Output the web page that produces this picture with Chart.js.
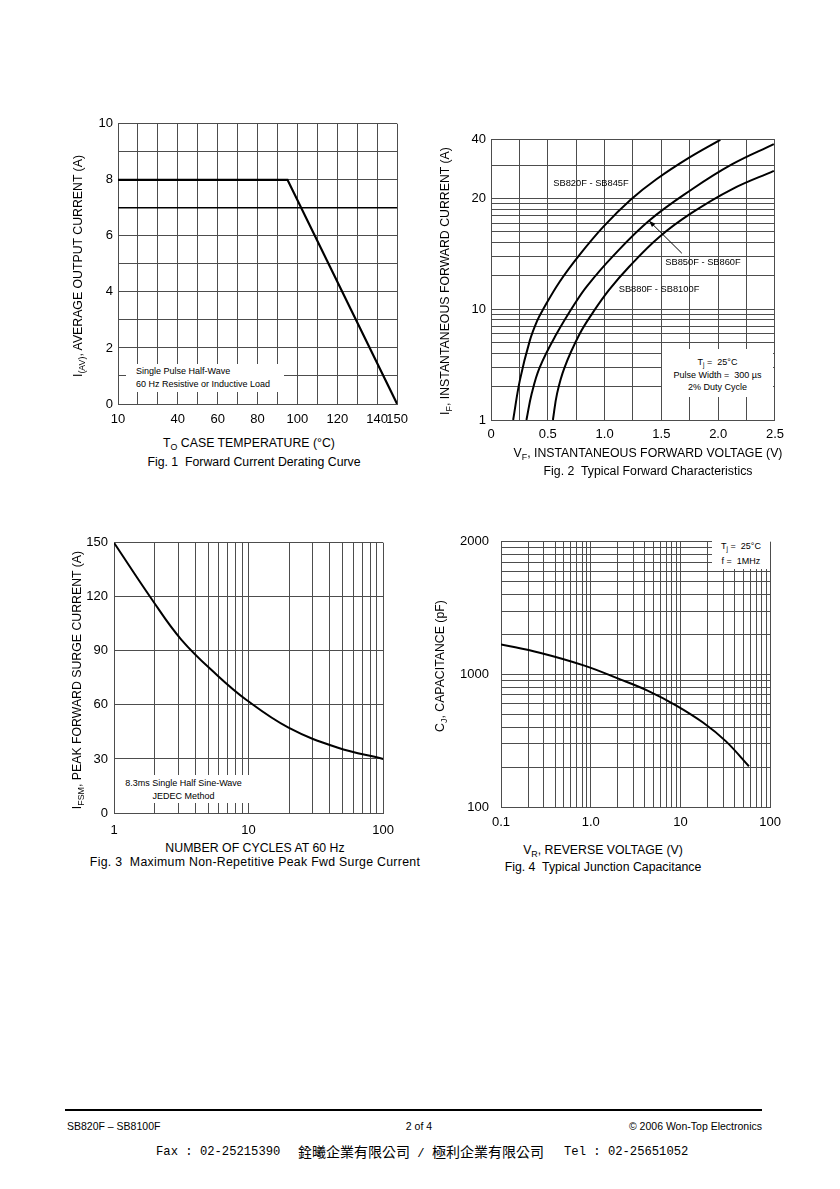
<!DOCTYPE html>
<html lang="en">
<head>
<meta charset="UTF-8" />
<title>SB820F - SB8100F typical curves</title>
<script src="https://cdn.jsdelivr.net/npm/chart.js"></script>
<style>
  body { margin: 0; background: #fff; color: #000; font-family: "Liberation Sans", Arial, sans-serif; }
  .page { position: relative; width: 840px; height: 1189px; overflow: hidden; }
  .plot { position: absolute; }
  .t { position: absolute; white-space: pre; transform: translate(-50%, -50%); font-size: 12.3px; line-height: 1; }
  .rot { transform: translate(-50%, -50%) rotate(-90deg); }
  .small { font-size: 9.3px; }
  .box { position: absolute; background: #fff; font-size: 9px; line-height: 12.5px; white-space: pre; }
  sub { font-size: 72%; line-height: 0; vertical-align: -0.35em; }
  .foot { position: absolute; font-size: 10.5px; line-height: 1; transform: translateY(-50%); white-space: pre; }
  .mono { font-family: "Liberation Mono", monospace; font-size: 12.2px; }
  .cjk { font-family: "Noto Sans CJK TC", sans-serif; font-size: 14px; }
</style>
</head>
<body>
<div class="page">
  <div class="plot" style="left:78px;top:111px;width:338px;height:319px"><canvas id="fig1"></canvas></div>
  <div class="plot" style="left:451px;top:127px;width:340px;height:319px"><canvas id="fig2"></canvas></div>
  <div class="plot" style="left:74px;top:529px;width:330px;height:310px"><canvas id="fig3"></canvas></div>
  <div class="plot" style="left:456px;top:522px;width:333px;height:311px"><canvas id="fig4"></canvas></div>

  <!-- Fig. 1 texts -->
  <div class="t rot" style="left:78px;top:266px">I<sub>(AV)</sub>, AVERAGE OUTPUT CURRENT (A)</div>
  <div class="t" style="left:249px;top:443px">T<sub>O</sub> CASE TEMPERATURE (°C)</div>
  <div class="t" style="left:254px;top:462px">Fig. 1  Forward Current Derating Curve</div>
  <div class="box" style="left:126px;top:364px;width:158px;height:28px;padding-left:10px;padding-top:1px;box-sizing:border-box">Single Pulse Half-Wave
60 Hz Resistive or Inductive Load</div>

  <!-- Fig. 2 texts -->
  <div class="t rot" style="left:445px;top:281px">I<sub>F</sub>, INSTANTANEOUS FORWARD CURRENT (A)</div>
  <div class="t" style="left:648px;top:453px">V<sub>F</sub>, INSTANTANEOUS FORWARD VOLTAGE (V)</div>
  <div class="t" style="left:648px;top:471px">Fig. 2  Typical Forward Characteristics</div>
  <div class="t small" style="left:591px;top:184px">SB820F - SB845F</div>
  <div class="t small" style="left:703px;top:263px">SB850F - SB860F</div>
  <div class="t small" style="left:659px;top:290px">SB880F - SB8100F</div>
  <div class="box" style="left:662px;top:349px;width:111px;height:48px;text-align:center;padding-top:7px;box-sizing:border-box">T<sub>j</sub> =  25°C
Pulse Width =  300 µs
2% Duty Cycle</div>

  <!-- Fig. 3 texts -->
  <div class="t rot" style="left:77px;top:680px">I<sub>FSM</sub>, PEAK FORWARD SURGE CURRENT (A)</div>
  <div class="t" style="left:255px;top:848px">NUMBER OF CYCLES AT 60 Hz</div>
  <div class="t" style="left:255px;top:862px;letter-spacing:0.3px">Fig. 3  Maximum Non-Repetitive Peak Fwd Surge Current</div>
  <div class="box" style="left:117px;top:775px;width:133px;height:28px;text-align:center;padding-top:2px;box-sizing:border-box">8.3ms Single Half Sine-Wave
JEDEC Method</div>

  <!-- Fig. 4 texts -->
  <div class="t rot" style="left:440px;top:666px">C<sub>J</sub>, CAPACITANCE (pF)</div>
  <div class="t" style="left:603px;top:850px">V<sub>R</sub>, REVERSE VOLTAGE (V)</div>
  <div class="t" style="left:603px;top:867px">Fig. 4  Typical Junction Capacitance</div>
  <div class="box" style="left:712px;top:536px;width:58px;height:33px;text-align:center;line-height:15px;padding-top:3px;box-sizing:border-box">T<sub>j</sub> =  25°C
f =  1MHz</div>

  <!-- footer -->
  <div style="position:absolute;left:65px;top:1109px;width:697px;height:2px;background:#000"></div>
  <div class="foot" style="left:67px;top:1126px">SB820F – SB8100F</div>
  <div class="foot" style="left:419px;top:1126px;transform:translate(-50%,-50%)">2 of 4</div>
  <div class="foot" style="right:78px;top:1126px">© 2006 Won-Top Electronics</div>
  <div class="foot mono" style="left:156px;top:1152px">Fax : 02-25215390</div>
  <div class="foot" style="left:298px;top:1152px"><span class="cjk">銓曦企業有限公司</span><span class="mono"> / </span><span class="cjk">極利企業有限公司</span></div>
  <div class="foot mono" style="left:564px;top:1152px">Tel : 02-25651052</div>
</div>

<script>
  // Fig. 1 - derating (case temperature in °C, current in A)
  const fig1Temp = [10, 95, 150];
  const fig1Current = [8, 8, 0];
  const fig1RefTemp = [10, 150];
  const fig1RefCurrent = [7, 7];
  const fig1XLabels = [10, 40, 60, 80, 100, 120, 140, 150];

  // Fig. 2 - forward characteristics (V, A)
  const fig2V1 = [0.195, 0.254, 0.341, 0.405, 0.458, 0.606, 0.783, 0.992, 1.234, 1.456, 1.741, 2.019];
  const fig2I1 = [1, 2.28, 5.18, 7.8, 9.95, 11.9, 14.1, 16.8, 19.9, 25.1, 32.3, 40];
  const fig2V2 = [0.312, 0.359, 0.429, 0.575, 0.75, 0.849, 1.07, 1.391, 1.77, 2.12, 2.49];
  const fig2I2 = [1, 1.74, 2.99, 5.94, 10.5, 11.6, 13.9, 17.4, 22.3, 29.9, 38];
  const fig2V3 = [0.545, 0.582, 0.648, 0.779, 0.895, 1.041, 1.216, 1.479, 1.77, 2.12, 2.49];
  const fig2I3 = [1, 1.74, 2.99, 5.94, 9.27, 11.3, 13.05, 15.7, 18.3, 22.3, 27.7];
  const fig2XLabelValues = [0, 0.5, 1, 1.5, 2, 2.5];
  const fig2XLabels = ['0', '0.5', '1.0', '1.5', '2.0', '2.5'];
  // the printed grid is a plain log grid, but its labels are not: 20 sits on the 100 line
  const fig2YLabels = ['1', '10', '20', '40'];
  const fig2YLabelAmps = [1, 10, 20, 40];
  const fig2YLabelGrid = [1, 10, 100, 339];
  const fig2YGrid = [1, 2, 3, 4, 5, 6, 7, 8, 9, 10, 20, 30, 40, 50, 60, 70, 80, 90, 100, 200, 339];
  const fig2ArrowTip = [1.391, 17.4];
  const fig2ArrowTail = [1.68, 14.2];

  // Fig. 3 - surge current (cycles, A)
  const fig3Cycles = [1, 1.92, 3.16, 5.84, 9.6, 19.8, 45.6, 100];
  const fig3Current = [150, 118.4, 96.3, 76.5, 62.9, 47.4, 36.4, 30];
  const fig3XGrid = [1, 2, 3, 4, 5, 6, 7, 8, 9, 10, 20, 30, 40, 50, 60, 70, 80, 90, 100];
  const fig3XLabelValues = [1, 10, 100];
  const fig3XLabels = ['1', '10', '100'];

  // Fig. 4 - junction capacitance (V, pF)
  const fig4Volt = [0.1, 0.27, 0.85, 2.0, 4.3, 9.1, 18, 32, 58];
  const fig4Cap = [1170, 1120, 1047, 933, 755, 580, 432, 314, 203];
  const fig4XGrid = [0.1, 0.2, 0.3, 0.4, 0.5, 0.6, 0.7, 0.8, 0.9, 1, 2, 3, 4, 5, 6, 7, 8, 9,
                     10, 20, 30, 40, 50, 60, 70, 80, 90, 100];
  const fig4XLabelValues = [0.1, 1, 10, 100];
  const fig4XLabels = ['0.1', '1.0', '10', '100'];
  const fig4YLabels = ['100', '1000', '2000'];
  const fig4YLabelCap = [100, 1000, 2000];
  const fig4YLabelGrid = [100, 1000, 10000];
  const fig4YGrid = [100, 200, 300, 400, 500, 600, 700, 800, 900, 1000,
                     2000, 3000, 4000, 5000, 6000, 7000, 8000, 9000, 10000];

  const GRID = '#4d4d4d';
  const FONT = "'Liberation Sans', Arial, sans-serif";

  // labelled value -> position on the printed log grid (log interpolation between labels)
  function toGrid(v, vals, grid) {
    let i = 0;
    while (i < vals.length - 2 && v > vals[i + 1]) i++;
    const t = Math.log(v / vals[i]) / Math.log(vals[i + 1] / vals[i]);
    return grid[i] * Math.pow(grid[i + 1] / grid[i], t);
  }
  const ampsToGrid = a => toGrid(a, fig2YLabelAmps, fig2YLabelGrid);
  const capToGrid = c => toGrid(c, fig4YLabelCap, fig4YLabelGrid);

  function pick(values, labels) {
    return v => {
      const i = values.findIndex(t => Math.abs(t - v) < 1e-6 * Math.max(1, Math.abs(t)));
      return i < 0 ? '' : labels[i];
    };
  }

  function points(xs, ys, map) {
    return xs.map((x, i) => ({ x: x, y: map ? map(ys[i]) : ys[i] }));
  }

  function line(data, width, tension) {
    return {
      data: data, borderColor: '#000', borderWidth: width, pointRadius: 0, fill: false,
      tension: tension
    };
  }

  function makeAxis(type, min, max, fit, isY, pad, callback, gridValues) {
    const ax = {
      type: type, min: min, max: max,
      border: { color: GRID, width: 1 },
      grid: { color: GRID, lineWidth: 1, drawTicks: false },
      ticks: { color: '#000', font: { family: FONT, size: 13 }, padding: pad,
               autoSkip: false, maxRotation: 0, minRotation: 0, callback: callback },
      afterFit: s => { if (isY) s.width = fit; else s.height = fit; }
    };
    if (gridValues) ax.afterBuildTicks = s => { s.ticks = gridValues.map(v => ({ value: v })); };
    return ax;
  }

  function makeChart(id, datasets, x, y, padTop, padRight, plugins) {
    return new Chart(document.getElementById(id), {
      type: 'line',
      data: { datasets: datasets },
      options: {
        responsive: true, maintainAspectRatio: false, animation: false, events: [],
        layout: { padding: { top: padTop, right: padRight, left: 0, bottom: 0 } },
        plugins: { legend: { display: false }, tooltip: { enabled: false } },
        scales: { x: x, y: y }
      },
      plugins: plugins || []
    });
  }

  const arrowPlugin = {
    id: 'fig2Arrow',
    afterDatasetsDraw(chart) {
      const { ctx, scales } = chart;
      const x1 = scales.x.getPixelForValue(fig2ArrowTail[0]);
      const y1 = scales.y.getPixelForValue(ampsToGrid(fig2ArrowTail[1]));
      const x2 = scales.x.getPixelForValue(fig2ArrowTip[0]);
      const y2 = scales.y.getPixelForValue(ampsToGrid(fig2ArrowTip[1]));
      const a = Math.atan2(y2 - y1, x2 - x1);
      ctx.save();
      ctx.strokeStyle = '#000';
      ctx.fillStyle = '#000';
      ctx.lineWidth = 1;
      ctx.beginPath();
      ctx.moveTo(x1, y1);
      ctx.lineTo(x2, y2);
      ctx.stroke();
      ctx.beginPath();
      ctx.moveTo(x2, y2);
      ctx.lineTo(x2 - 7 * Math.cos(a - 0.35), y2 - 7 * Math.sin(a - 0.35));
      ctx.lineTo(x2 - 7 * Math.cos(a + 0.35), y2 - 7 * Math.sin(a + 0.35));
      ctx.closePath();
      ctx.fill();
      ctx.restore();
    }
  };

  // Fig. 1
  const f1x = makeAxis('linear', 10, 150, 26, false, 8, pick(fig1XLabels, fig1XLabels.map(String)));
  f1x.ticks.stepSize = 10;
  const f1y = makeAxis('linear', 0, 10, 40, true, 5, v => (v % 2 === 0 ? String(v) : ''));
  f1y.ticks.stepSize = 1;
  makeChart('fig1', [
    line(points(fig1Temp, fig1Current), 2.2, 0),
    line(points(fig1RefTemp, fig1RefCurrent), 1.5, 0)
  ], f1x, f1y, 10, 16);

  // Fig. 2
  const f2x = makeAxis('linear', 0, 2.5, 26, false, 7, pick(fig2XLabelValues, fig2XLabels));
  f2x.ticks.stepSize = 0.25;
  const f2y = makeAxis('logarithmic', 1, fig2YLabelGrid[fig2YLabelGrid.length - 1], 40, true, 5,
                       pick(fig2YLabelGrid, fig2YLabels), fig2YGrid);
  makeChart('fig2', [
    line(points(fig2V1, fig2I1, ampsToGrid), 2, 0.4),
    line(points(fig2V2, fig2I2, ampsToGrid), 2, 0.4),
    line(points(fig2V3, fig2I3, ampsToGrid), 2, 0.4)
  ], f2x, f2y, 10, 14, [arrowPlugin]);

  // Fig. 3
  const f3x = makeAxis('logarithmic', 1, 100, 26, false, 10, pick(fig3XLabelValues, fig3XLabels), fig3XGrid);
  const f3y = makeAxis('linear', 0, 150, 40, true, 6, v => String(v));
  f3y.ticks.stepSize = 30;
  makeChart('fig3', [line(points(fig3Cycles, fig3Current), 2, 0.4)], f3x, f3y, 10, 14);

  // Fig. 4
  const f4x = makeAxis('logarithmic', 0.1, 100, 26, false, 8, pick(fig4XLabelValues, fig4XLabels), fig4XGrid);
  const f4y = makeAxis('logarithmic', 100, 10000, 45, true, 12, pick(fig4YLabelGrid, fig4YLabels), fig4YGrid);
  makeChart('fig4', [line(points(fig4Volt, fig4Cap, capToGrid), 2, 0.4)], f4x, f4y, 10, 14);
</script>
</body>
</html>
